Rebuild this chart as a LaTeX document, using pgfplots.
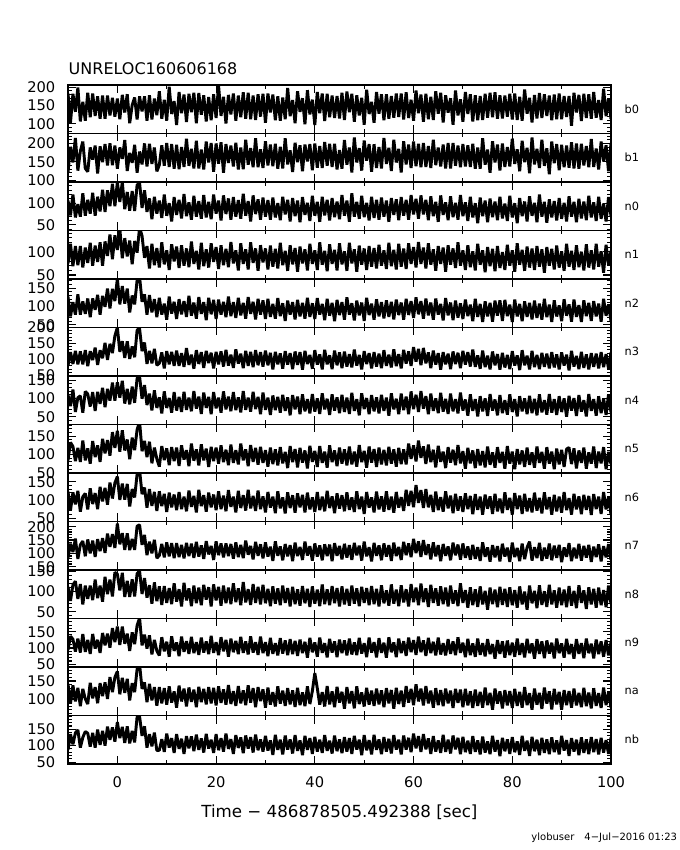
\documentclass[border=0pt]{standalone}
\usepackage{fontspec}
\setmainfont{DejaVu Sans}
\usepackage{pgfplots}
\pgfplotsset{compat=1.18}
\usepackage{pgfplotstable}

\pgfplotstableread{
t b0 b1 n0 n1 n2 n3 n4 n5 n6 n7 n8 n9 na nb
-10 183 121 106 75 127 80 109 84 123 84 112 94 142 88
-9.5 103 191 72 117 73 123 79 133 71 136 77 136 87 135
-9 182 148 120 69 112 86 124 122 121 105 117 127 138 104
-8.5 133 215 67 112 78 127 63 82 88 155 126 89 93 139
-8 199 126 98 71 133 85 102 118 125 79 82 129 131 148
-7.5 107 179 69 112 78 125 107 80 68 132 119 86 80 94
-7 160 205 123 66 114 85 61 138 109 146 68 143 128 125
-6.5 109 132 71 109 80 129 119 84 118 89 115 88 100 143
-6 185 123 108 76 122 79 112 117 74 152 82 125 86 138
-5.5 118 189 76 119 71 126 78 75 132 100 115 82 145 97
-5 183 156 124 70 122 98 117 137 89 148 79 143 102 139
-4.5 122 194 71 113 91 137 66 93 119 87 130 98 133 94
-4 175 118 115 78 132 83 118 125 75 153 84 125 88 149
-3.5 114 192 81 120 78 129 85 80 136 108 115 85 144 102
-3 177 149 131 70 129 104 129 143 96 157 75 146 108 145
-2.5 114 198 80 122 99 152 76 103 133 102 137 108 146 100
-2 177 140 130 91 149 99 126 139 87 174 94 144 100 158
-1.5 123 200 93 137 95 149 94 97 148 124 130 101 161 118
-1 171 141 145 84 148 120 143 161 104 172 88 161 119 156
-0.5 120 194 93 135 115 174 94 118 147 120 148 118 160 112
0 169 131 149 104 176 200 144 165 164 212 144 166 177 172
0.5 113 189 103 149 106 124 102 108 100 134 103 109 113 123
1 179 158 149 86 156 157 148 166 145 176 147 166 159 157
1.5 131 209 86 129 108 105 86 111 101 113 87 113 117 108
2 181 125 126 90 149 157 126 141 144 175 127 144 156 159
2.5 102 174 83 124 84 102 84 87 82 112 87 91 96 107
3 151 147 128 73 130 141 132 146 130 154 131 148 144 145
3.5 172 196 82 123 106 107 88 112 107 113 88 112 119 110
4 112 120 142 98 172 192 155 168 171 202 145 169 183 188
4.5 175 178 147 152 181 197 160 190 182 207 152 192 196 189
5 134 143 89 134 113 126 99 109 116 132 94 108 128 130
5.5 175 200 130 87 133 153 136 137 134 169 134 141 146 159
6 109 137 80 112 78 86 82 93 79 93 85 98 91 94
6.5 178 199 111 64 131 127 113 135 130 144 116 139 142 135
7 112 144 63 117 84 88 67 76 84 100 70 80 96 98
7.5 169 189 115 71 120 133 122 119 122 151 123 125 133 140
8 124 124 76 108 71 82 74 88 70 82 76 91 81 85
8.5 189 141 106 66 124 88 103 67 124 92 113 77 133 86
9 114 195 66 120 78 122 59 123 83 135 67 133 88 120
9.5 166 139 120 73 108 72 119 85 117 85 114 90 130 81
10 109 201 71 103 64 126 74 117 67 141 72 119 84 137
10.5 201 136 100 61 127 85 101 71 120 89 109 73 135 94
11 127 198 58 116 81 124 61 120 80 138 69 136 90 123
11.5 162 131 114 79 113 80 117 82 115 82 121 91 121 78
12 97 196 73 111 66 128 67 119 72 138 75 117 76 135
12.5 187 130 108 65 120 80 104 69 122 86 106 75 137 90
13 129 190 65 114 79 120 63 125 75 132 63 135 93 121
13.5 180 136 121 70 115 77 118 86 109 81 122 88 129 75
14 105 213 70 107 72 136 69 112 69 139 78 121 79 129
14.5 182 139 102 67 129 83 102 68 126 90 108 82 132 92
15 132 185 62 122 75 115 65 130 81 136 64 134 92 128
15.5 185 132 117 74 111 71 120 83 111 83 115 84 126 83
16 102 207 69 102 67 129 72 114 66 143 71 118 77 134
16.5 184 132 105 62 126 86 105 70 128 88 110 79 134 87
17 125 183 64 119 80 123 58 128 83 130 66 132 91 122
17.5 178 129 119 69 112 74 116 84 113 79 117 86 128 79
18 107 205 67 105 63 127 74 116 68 146 80 120 85 136
18.5 173 148 103 66 124 89 104 66 120 96 111 81 133 91
19 110 201 63 118 79 121 57 121 80 128 63 137 88 118
19.5 181 123 120 78 118 72 117 82 115 75 118 85 131 78
20 116 200 76 110 66 124 73 119 72 145 78 118 82 135
20.5 205 145 106 63 119 85 102 75 124 93 112 78 135 86
21 122 203 60 114 78 125 61 125 75 137 65 133 89 123
21.5 174 120 118 71 113 78 119 79 112 85 115 90 127 82
22 101 198 75 106 71 130 70 113 69 137 71 125 84 137
22.5 179 147 111 67 127 81 105 71 127 90 110 73 139 90
23 126 194 62 121 74 115 65 127 81 135 69 129 86 120
23.5 183 137 114 75 112 74 117 77 109 80 121 87 122 75
24 109 202 69 103 69 132 68 112 66 141 74 122 81 132
24.5 177 129 107 60 124 87 103 73 125 86 108 81 136 93
25 118 189 64 118 76 118 62 130 78 132 66 134 88 125
25.5 186 130 122 74 110 73 120 84 113 82 124 85 124 77
26 114 210 71 105 67 127 69 114 71 148 73 120 83 131
26.5 185 142 105 62 126 80 102 68 128 95 106 80 138 91
27 113 187 58 120 80 124 64 126 77 128 67 136 90 126
27.5 177 135 118 76 113 76 118 80 111 77 119 86 130 79
28 111 214 75 107 65 129 71 118 70 143 72 118 77 134
28.5 181 135 109 59 121 82 104 72 126 91 112 79 133 86
29 120 184 62 114 78 123 57 121 75 134 68 135 94 119
29.5 182 133 113 77 117 78 116 77 110 81 117 84 127 82
30 103 206 69 107 66 128 69 112 66 141 71 118 76 130
30.5 183 140 107 62 121 82 102 67 122 88 107 75 132 85
31 131 197 62 113 72 121 55 119 79 125 64 131 84 116
31.5 180 138 113 68 107 69 108 74 109 72 113 82 119 72
32 110 199 67 106 67 124 68 114 64 145 70 115 79 133
32.5 175 131 100 64 123 85 104 70 124 91 108 77 135 87
33 109 191 61 119 74 119 61 120 77 126 66 130 87 118
33.5 172 132 115 71 109 71 110 76 107 74 115 83 123 73
34 113 214 74 102 61 126 66 107 63 135 72 123 81 131
34.5 198 143 108 59 116 84 103 63 121 89 109 78 130 88
35 121 181 58 114 78 120 54 123 78 131 63 127 85 119
35.5 165 122 112 73 112 70 109 79 113 71 112 81 124 76
36 102 202 70 108 65 125 70 115 65 140 69 122 78 132
36.5 189 149 106 57 118 83 105 65 118 90 106 76 131 84
37 133 195 56 111 73 123 57 118 80 124 65 126 83 116
37.5 170 124 114 75 110 68 111 78 114 75 114 84 118 71
38 99 197 73 105 67 127 65 111 66 144 71 119 80 130
38.5 192 151 101 60 124 86 98 62 120 92 107 70 135 87
39 126 198 59 117 72 114 59 124 74 127 62 131 86 123
39.5 166 127 117 74 109 71 112 80 107 73 113 87 122 75
40 97 200 71 103 66 129 64 110 67 137 70 117 172 127
40.5 187 134 103 61 123 84 100 66 122 88 105 73 130 82
41 129 193 57 120 78 116 58 123 72 130 64 132 84 118
41.5 183 133 115 72 107 69 114 77 109 74 118 85 119 78
42 108 204 72 102 63 130 70 108 69 134 69 115 79 132
42.5 182 139 108 58 121 85 99 64 125 90 106 71 136 84
43 118 199 60 116 75 113 55 125 78 133 66 128 85 115
43.5 177 136 112 74 110 70 111 79 110 71 114 86 121 76
44 116 199 68 104 60 128 67 111 64 138 71 120 77 131
44.5 176 129 104 60 118 82 103 68 118 91 109 72 134 83
45 115 182 63 118 77 122 60 119 76 128 63 126 90 119
45.5 185 131 119 73 112 73 110 75 113 77 113 84 120 77
46 111 209 71 101 64 125 63 114 69 136 68 123 73 126
46.5 188 142 106 59 125 78 102 70 121 84 107 77 133 82
47 132 189 57 119 78 117 58 122 73 131 65 129 88 123
47.5 182 121 123 75 109 75 115 73 107 75 115 80 122 75
48 106 216 69 105 62 131 66 108 67 139 70 117 74 130
48.5 178 148 103 57 116 81 98 67 124 93 108 78 135 88
49 123 187 64 113 76 114 54 126 75 129 64 131 86 118
49.5 171 126 117 72 111 69 114 79 109 73 112 83 118 71
50 98 208 68 107 61 126 71 110 62 144 72 115 79 132
50.5 193 153 101 61 124 86 101 64 122 89 109 72 131 86
51 127 198 60 112 77 120 57 122 79 123 66 132 84 117
51.5 160 123 115 68 108 72 109 78 107 70 114 86 123 73
52 103 198 66 108 64 123 65 115 66 139 69 118 81 133
52.5 187 133 108 64 120 78 103 66 123 91 107 71 129 87
53 128 190 62 115 73 118 59 119 74 130 63 130 85 119
53.5 181 132 113 70 112 73 110 73 110 74 116 85 124 74
54 110 215 69 103 68 129 66 113 68 137 71 116 77 126
54.5 181 144 106 63 117 80 102 70 124 88 103 70 130 82
55 114 188 57 119 72 115 53 121 73 131 65 133 88 121
55.5 176 125 112 69 113 75 114 75 109 72 118 87 125 76
56 117 210 73 104 65 132 70 114 65 140 70 117 73 132
56.5 183 148 109 62 119 79 99 67 122 90 105 72 131 88
57 119 185 61 117 77 117 57 118 79 124 64 129 86 118
57.5 183 121 114 68 111 72 113 74 108 75 116 84 123 73
58 112 206 71 107 64 130 68 114 70 143 73 121 78 131
58.5 186 143 108 63 121 87 105 73 128 93 106 76 136 88
59 116 197 62 118 77 125 57 130 84 137 63 132 90 124
59.5 166 133 119 74 115 80 119 88 125 86 119 87 128 80
60 109 205 74 110 69 139 71 125 80 154 74 124 83 137
60.5 191 138 110 66 125 93 110 81 141 101 110 79 141 92
61 129 199 64 121 79 133 63 138 92 145 66 135 93 129
61.5 180 135 118 74 115 82 120 91 127 87 120 87 129 81
62 106 201 74 109 67 136 72 122 78 150 74 123 82 135
62.5 182 136 108 64 122 88 106 74 130 94 108 76 136 89
63 113 193 61 118 76 122 57 127 80 134 62 131 88 122
63.5 174 133 116 72 111 73 113 79 114 77 117 84 123 75
64 111 210 70 105 64 128 66 113 67 141 72 119 76 129
64.5 189 141 103 59 122 84 100 65 123 89 108 77 130 82
65 128 189 57 112 78 120 60 124 72 131 65 132 83 116
65.5 185 137 118 74 107 68 115 80 108 71 113 80 125 78
66 104 197 73 109 62 123 64 108 68 135 69 115 80 133
66.5 178 132 102 57 123 85 99 63 124 91 110 77 129 81
67 131 201 61 114 76 118 58 120 77 126 63 127 88 118
67.5 170 132 116 72 111 70 113 78 112 74 115 82 123 76
68 98 201 68 107 63 125 65 113 64 140 70 120 75 131
68.5 191 139 101 65 116 86 98 71 117 93 103 78 128 89
69 123 194 62 120 70 121 59 126 71 133 64 133 89 124
69.5 167 135 119 70 109 73 116 76 110 76 121 85 126 74
70 106 198 70 103 66 127 67 109 67 137 72 116 77 127
70.5 187 137 102 61 119 84 97 61 118 83 104 72 128 80
71 127 195 59 114 74 123 53 118 75 126 60 128 82 115
71.5 181 136 115 67 105 78 111 76 111 76 111 78 121 75
72 107 199 67 101 60 131 66 111 61 132 66 114 75 129
72.5 178 131 100 60 121 77 98 63 116 79 106 73 126 81
73 110 189 54 117 72 113 51 115 73 123 62 129 81 116
73.5 176 131 113 72 107 71 106 70 109 72 113 79 120 73
74 111 214 70 103 58 128 65 109 60 141 68 115 76 128
74.5 182 142 106 56 114 76 100 65 115 87 102 74 132 79
75 117 183 56 110 73 112 52 122 76 122 55 127 83 113
75.5 185 120 111 69 110 69 112 72 110 69 110 81 117 74
76 118 206 68 106 59 125 67 106 62 131 69 112 70 130
76.5 186 148 104 58 116 82 97 64 117 85 105 67 129 82
77 114 197 61 112 75 117 54 120 69 127 61 124 87 117
77.5 178 126 115 65 117 68 109 77 104 70 112 82 121 68
78 115 200 65 99 61 121 60 107 64 136 67 120 74 124
78.5 177 136 99 61 118 75 95 61 121 88 107 70 125 83
79 120 190 59 115 74 114 56 123 73 121 62 123 82 119
79.5 182 137 117 70 105 70 111 75 106 68 111 78 122 75
80 112 213 67 103 58 126 63 108 60 140 66 116 75 126
80.5 183 144 100 57 119 81 98 60 119 86 104 73 128 80
81 111 184 54 118 73 113 51 115 75 120 60 129 81 113
81.5 174 124 112 72 107 67 106 73 112 71 113 79 120 72
82 109 207 70 104 60 129 65 111 62 137 68 115 76 130
82.5 194 149 104 59 114 82 100 66 117 78 100 71 133 84
83 128 188 58 111 72 112 57 119 69 122 55 128 83 115
83.5 171 119 116 66 110 69 107 72 105 144 115 84 116 69
84 104 216 71 107 65 127 60 106 66 73 71 114 70 127
84.5 179 143 101 61 116 76 99 64 120 123 102 67 129 83
85 115 185 56 112 69 114 54 122 71 82 59 127 84 118
85.5 184 133 120 68 108 70 111 77 106 139 116 82 117 71
86 116 210 69 105 64 121 62 107 63 72 67 120 72 124
86.5 181 139 103 55 121 77 95 61 121 121 101 69 132 78
87 122 187 55 110 71 118 56 120 74 80 62 123 87 119
87.5 177 116 109 70 105 72 112 75 108 137 117 83 121 74
88 110 205 67 106 58 123 61 108 60 74 68 116 71 125
88.5 180 146 105 62 117 75 98 60 114 129 103 68 128 80
89 113 198 60 113 73 116 55 116 69 83 60 129 85 116
89.5 183 127 112 66 103 69 106 73 109 132 110 84 120 73
90 113 196 64 101 60 122 63 113 65 67 66 114 70 130
90.5 176 135 101 59 120 81 100 66 122 122 105 70 125 85
91 119 194 58 117 75 115 50 115 72 87 61 128 83 117
91.5 176 134 116 68 106 66 107 119 105 138 114 81 122 69
92 95 203 69 102 59 127 67 74 60 71 65 112 76 123
92.5 185 132 103 61 119 78 101 117 117 121 102 67 129 82
93 131 200 56 114 72 111 52 62 74 81 59 127 82 118
93.5 179 131 110 67 104 70 109 111 110 136 116 82 117 71
94 108 199 65 100 58 124 64 77 61 73 72 115 77 125
94.5 182 140 104 60 117 74 95 119 114 128 103 69 131 78
95 116 193 61 116 74 116 51 61 73 84 57 129 80 119
95.5 181 135 117 66 110 69 112 106 111 132 111 84 118 74
96 114 212 67 103 61 120 66 75 59 68 68 113 74 126
96.5 187 136 102 62 115 77 98 122 116 125 107 68 130 80
97 117 186 59 117 73 118 53 63 75 86 60 126 81 120
97.5 165 129 115 68 108 72 106 108 109 134 110 81 116 73
98 111 205 64 101 59 123 60 76 62 70 66 120 75 124
98.5 196 151 99 55 121 76 100 120 122 127 104 73 132 79
99 121 195 58 115 75 117 55 60 74 85 61 124 83 117
99.5 170 124 114 71 106 71 111 107 108 135 115 77 119 75
100 113 201 70 102 60 122 62 74 60 75 69 118 76 125
}\lc

\pgfplotsset{
  panel/.style={
    scale only axis, width=407.25pt, height=36.375pt,
    anchor=south west,
    xmin=-10, xmax=100,
    xtick={0,20,...,100}, minor xtick={10,30,50,70,90},
    ytick distance=50, minor y tick num=4,
    tick align=inside, xtick pos=both, ytick pos=both,
    major tick length=6pt, minor tick length=3pt,
    axis line style={line width=0.8pt},
    every tick/.style={black, line width=0.8pt},
    tick label style={font=\fontsize{11}{13}\selectfont},
    /pgf/number format/assume math mode=true,
    yticklabel style={xshift=-6pt},
  },
  trace/.style={black, line width=2.2pt, line join=bevel, mark=none},
}

\begin{document}
\begin{tikzpicture}
\useasboundingbox (0,0) rectangle (510pt,637.5pt);
\foreach \col/\ymn/\ymx/\i in {b0/74/206/0, b1/95/227/1, n0/37/149/2, n1/41.5/145.5/3, n2/43/175/4, n3/48.4/200/5, n4/29/161/6, n5/49.5/182/7, n6/41/174/8, n7/37.5/219.5/9, n8/33/154/10, n9/41.6/190.5/11, na/54/189/12}{
  \begin{axis}[panel, name=ax\i, at={(51pt,{537.375pt-36.375pt*\i})}, ymin=\ymn, ymax=\ymx, xticklabel=\empty]
    \addplot[trace] table[x=t, y=\col]{\lc};
  \end{axis}
  \node[anchor=west, font=\fontsize{8.5}{10}\selectfont] at ([xshift=6.75pt]ax\i.east) {\col};
}
\begin{axis}[panel, name=axlast, at={(51pt,64.5pt)}, ymin=44, ymax=192,
  xticklabel style={yshift=-6pt}]
  \addplot[trace] table[x=t, y=nb]{\lc};
\end{axis}
\node[anchor=west, font=\fontsize{8.5}{10}\selectfont] at ([xshift=6.75pt]axlast.east) {nb};
\node[anchor=west, font=\fontsize{12}{14}\selectfont] at (48pt,585.75pt) {UNRELOC160606168};
\node[font=\fontsize{12.5}{14}\selectfont] at (254.6pt,28.5pt) {Time − 486878505.492388 [sec]};
\node[anchor=east, inner sep=0pt, font=\fontsize{7.5}{9}\selectfont] at (508pt,9pt) {ylobuser\quad 4−Jul−2016 01:23};
\end{tikzpicture}
\end{document}
